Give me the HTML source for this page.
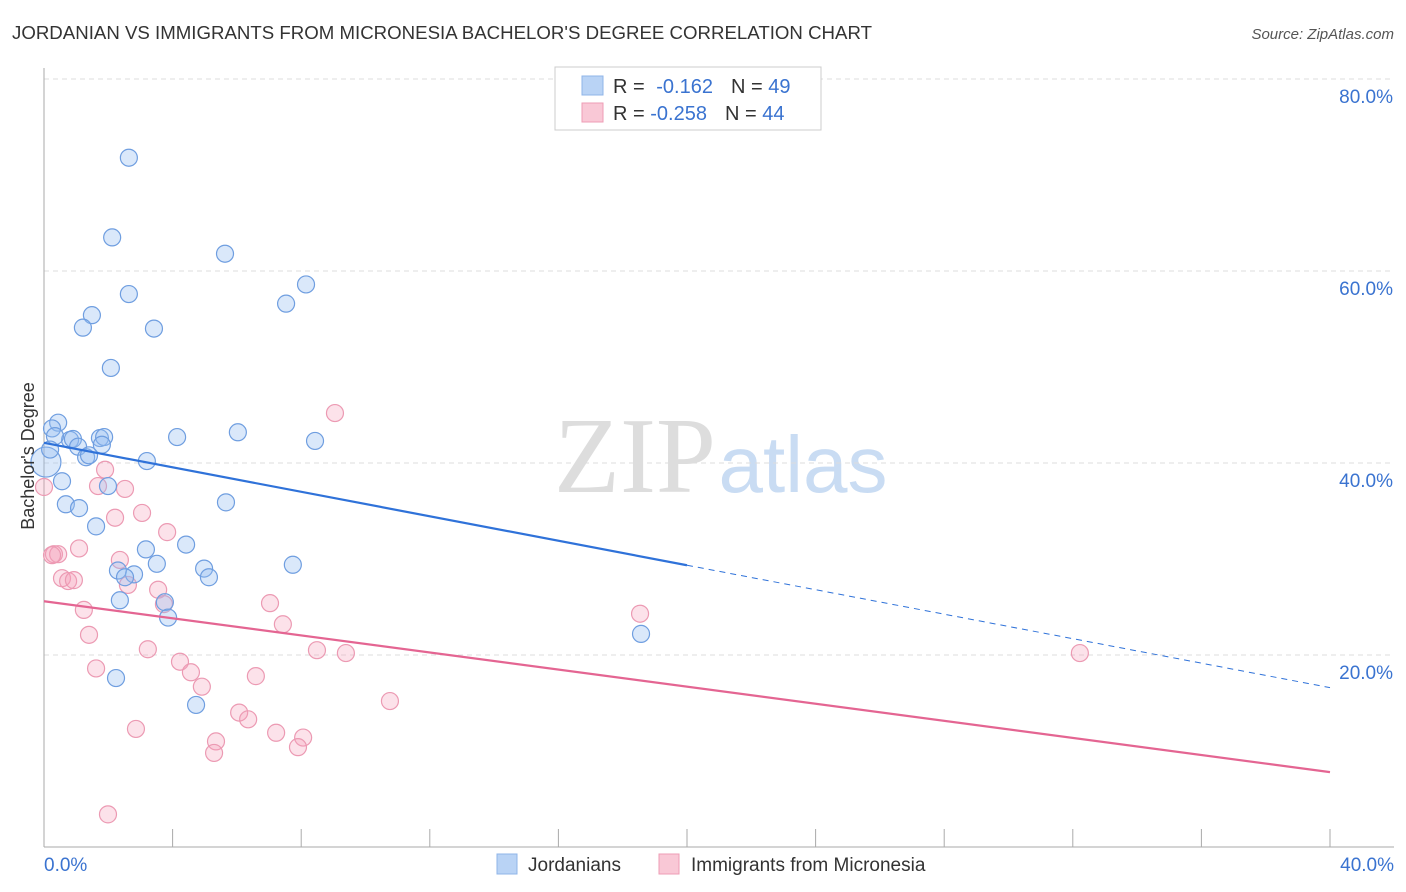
<!DOCTYPE html>
<html><head><meta charset="utf-8"><style>
body{margin:0;background:#fff;font-family:"Liberation Sans",sans-serif;}
</style></head><body>
<svg id="chart" width="1406" height="892" xmlns="http://www.w3.org/2000/svg" style="display:block">
<text x="12" y="39" font-size="18" fill="#333" textLength="860" lengthAdjust="spacingAndGlyphs">JORDANIAN VS IMMIGRANTS FROM MICRONESIA BACHELOR'S DEGREE CORRELATION CHART</text>
<text x="1394" y="39" font-size="15" fill="#555" font-style="italic" text-anchor="end">Source: ZipAtlas.com</text>
<g>
<text x="635" y="492" font-size="108" font-family="Liberation Serif,serif" fill="#ddd" text-anchor="middle">ZIP</text>
<text x="803" y="492" font-size="80" fill="#c9dcf3" text-anchor="middle">atlas</text>
</g>
<g id="grid"></g>
<g id="axes"></g>
<g id="pts"></g>
<g id="trends"></g>
<text transform="translate(34,456) rotate(-90)" font-size="18" fill="#333" text-anchor="middle">Bachelor's Degree</text>
<g>
<rect x="555" y="67" width="266" height="63" fill="#fff" stroke="#ccc"/>
<rect x="582" y="76" width="21" height="19" fill="#b9d3f5" stroke="#8fb5e8"/>
<rect x="582" y="103" width="21" height="19" fill="#f9c8d6" stroke="#ee9db5"/>
<text x="613" y="93" font-size="20" fill="#333">R = <tspan fill="#3a73d0" dx="6">-0.162</tspan><tspan dx="18" fill="#333">N = </tspan><tspan fill="#3a73d0">49</tspan></text>
<text x="613" y="120" font-size="20" fill="#333">R = <tspan fill="#3a73d0">-0.258</tspan><tspan dx="18" fill="#333">N = </tspan><tspan fill="#3a73d0">44</tspan></text>
</g>
<g>
<rect x="497" y="854" width="20" height="20" fill="#b9d3f5" stroke="#8fb5e8"/>
<text x="528" y="871" font-size="19" fill="#333">Jordanians</text>
<rect x="659" y="854" width="20" height="20" fill="#f9c8d6" stroke="#ee9db5"/>
<text x="691" y="871" font-size="19" fill="#333">Immigrants from Micronesia</text>
</g>
</svg>
<script>
const yTicks=[20,40,60,80];
const yTickLabels=["20.0%","40.0%","60.0%","80.0%"];
const xEndLabels=["0.0%","40.0%"];
const blueX=[2.64,2.12,5.63,2.64,8.15,7.53,1.49,1.21,3.42,2.08,0.44,0.25,0.81,0.90,1.74,1.87,4.14,6.03,8.43,1.06,1.80,1.31,1.40,0.06,3.20,0.56,1.99,5.66,0.68,1.09,1.62,3.17,4.42,3.51,2.30,2.80,2.52,4.98,5.13,7.74,2.36,3.76,3.86,18.57,2.24,4.73,0.34,0.19];
const blueY=[71.8,63.5,61.8,57.6,58.6,56.6,55.4,54.1,54.0,49.9,44.2,43.6,42.4,42.5,42.6,42.7,42.7,43.2,42.3,41.7,41.9,40.6,40.8,40.1,40.2,38.1,37.6,35.9,35.7,35.3,33.4,31.0,31.5,29.5,28.8,28.4,28.1,29.0,28.1,29.4,25.7,25.5,23.9,22.2,17.6,14.8,42.8,41.4];
const pinkX=[9.05,1.90,1.68,2.52,0,2.21,3.05,3.83,0.31,0.44,1.09,2.36,0.56,0.75,0.93,2.61,3.55,3.73,7.03,1.24,7.43,18.54,1.40,3.23,8.49,9.39,32.22,1.62,4.23,4.57,4.91,6.59,10.76,6.07,6.35,2.86,5.35,5.29,7.22,8.06,7.90,1.99,0.25];
const pinkY=[45.2,39.3,37.6,37.3,37.5,34.3,34.8,32.8,30.5,30.5,31.1,29.9,28.0,27.7,27.8,27.3,26.8,25.3,25.4,24.7,23.2,24.3,22.1,20.6,20.5,20.2,20.2,18.6,19.3,18.2,16.7,17.8,15.2,14.0,13.3,12.3,11.0,9.8,11.9,11.4,10.4,3.4,30.4];
const blueTrend=[42.1,16.6];
const pinkTrend=[25.6,7.8];
const NS="http://www.w3.org/2000/svg";
const X=v=>44+v*(1286/40);
const Y=v=>847-v*9.6;
function mk(tag,attrs,parent){const e=document.createElementNS(NS,tag);for(const k in attrs)e.setAttribute(k,attrs[k]);parent.appendChild(e);return e;}
const grid=document.getElementById('grid'),axes=document.getElementById('axes'),pts=document.getElementById('pts'),tr=document.getElementById('trends');
yTicks.forEach((t,i)=>{
 const l=mk('line',{x1:44,x2:1394,y1:Y(t),y2:Y(t),stroke:'#ddd','stroke-dasharray':'5,4'},grid);
 
 
 const tx=mk('text',{x:1393,y:Y(t)+24,'font-size':19,fill:'#3a73d0','text-anchor':'end'},grid);
 tx.textContent=yTickLabels[i];
 
 
});
const ya=mk('line',{x1:44,x2:44,y1:68,y2:847,stroke:'#aaa'},axes);


const xa=mk('line',{x1:44,x2:1394,y1:847,y2:847,stroke:'#aaa'},axes);


for(let i=0;i<=10;i++){
 const t=mk('line',{x1:X(i*4),x2:X(i*4),y1:829,y2:847,stroke:'#aaa'},axes);
 
 
}
[[0,'start',44],[40,'end',1394]].forEach((d,i)=>{
 const tx=mk('text',{x:d[2],y:871,'font-size':19,fill:'#3a73d0','text-anchor':d[1]},axes);
 tx.textContent=xEndLabels[i];
 
 
});
pinkX.forEach((x,i)=>{
 const c=mk('circle',{cx:X(x),cy:Y(pinkY[i]),r:8.5,fill:'rgba(244,160,185,0.3)',stroke:'#ec9ab3','stroke-width':1.2},pts);
 
 
});
blueX.forEach((x,i)=>{
 const c=mk('circle',{cx:X(x),cy:Y(blueY[i]),r:(i===23?15:8.5),fill:'rgba(150,190,240,0.35)',stroke:'#6f9ee0','stroke-width':1.2},pts);
 
 
});
const bm=blueTrend[0]+(blueTrend[1]-blueTrend[0])*(20/40);
const b1=mk('line',{x1:X(0),y1:Y(blueTrend[0]),x2:X(20),y2:Y(bm),stroke:'#2f72d9','stroke-width':2.2},tr);


const b2=mk('line',{x1:X(20),y1:Y(bm),x2:X(40),y2:Y(blueTrend[1]),stroke:'#2f72d9','stroke-width':1,'stroke-dasharray':'6,5'},tr);


const p1=mk('line',{x1:X(0),y1:Y(pinkTrend[0]),x2:X(40),y2:Y(pinkTrend[1]),stroke:'#e46592','stroke-width':2.2},tr);


</script>
</body></html>
